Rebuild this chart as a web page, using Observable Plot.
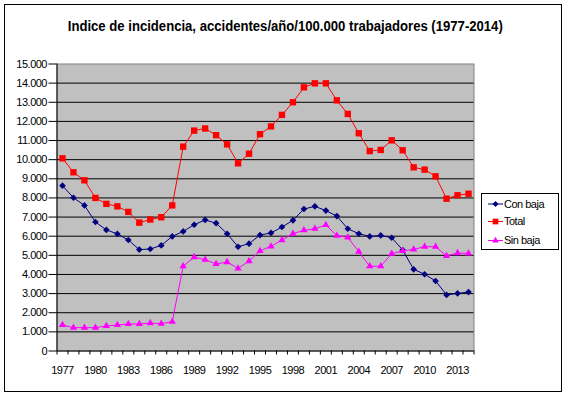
<!DOCTYPE html>
<html>
<head>
<meta charset="utf-8">
<script src="https://cdn.jsdelivr.net/npm/d3@7"></script>
<script src="https://cdn.jsdelivr.net/npm/@observablehq/plot@0.6"></script>
<style>
  body { margin: 0; background: white; }
  #chart { position: relative; width: 568px; height: 398px; background: white; overflow: hidden; }
  #border { position: absolute; left: 4px; top: 4px; width: 556px; height: 386px; border: 1px solid black; }
  #title { position: absolute; left: 1.5px; width: 568px; top: 18px; text-align: center;
           font: bold 14px/16px "Liberation Sans", Arial, sans-serif; color: black; white-space: nowrap; }
  #title span { display: inline-block; transform-origin: 50% 50%; }
  #plot { position: absolute; left: 0; top: 0; }
  #legend { position: absolute; left: 481px; top: 193px; width: 76px; height: 55px; border: 1px solid black; background: white; }
</style>
</head>
<body>
<div id="chart">
  <div id="border"></div>
  <div id="plot"></div>
  <div id="title"><span>Indice de incidencia, accidentes/año/100.000 trabajadores (1977-2014)</span></div>
  <div id="legend"></div>
</div>
<script>
const years = [1977, 1978, 1979, 1980, 1981, 1982, 1983, 1984, 1985, 1986, 1987, 1988, 1989,
  1990, 1991, 1992, 1993, 1994, 1995, 1996, 1997, 1998, 1999, 2000, 2001, 2002, 2003, 2004,
  2005, 2006, 2007, 2008, 2009, 2010, 2011, 2012, 2013, 2014];
const conBaja = [8640, 8010, 7610, 6740, 6330, 6120, 5800, 5300, 5330, 5520, 5990, 6250, 6600,
  6850, 6680, 6130, 5450, 5610, 6060, 6170, 6480, 6830, 7420, 7560, 7340, 7050, 6390, 6130,
  5990, 6040, 5920, 5280, 4270, 4010, 3660, 2930, 3010, 3080];
const total = [10070, 9340, 8920, 8000, 7690, 7560, 7270, 6710, 6870, 6990, 7610, 10680, 11520,
  11630, 11280, 10800, 9810, 10310, 11330, 11740, 12340, 13000, 13780, 13990, 13990, 13100, 12390, 11380,
  10450, 10510, 11010, 10490, 9600, 9480, 9130, 7960, 8140, 8220];
const sinBaja = [1360, 1220, 1220, 1220, 1310, 1360, 1410, 1410, 1460, 1430, 1530, 4430, 4910,
  4770, 4550, 4650, 4320, 4700, 5230, 5470, 5800, 6130, 6310, 6390, 6590, 6030, 5940, 5190,
  4430, 4430, 5090, 5230, 5310, 5450, 5450, 4970, 5120, 5100];
const seriesNames = ["Con baja", "Total", "Sin baja"];
const seriesColors = ["#000080", "#FF0000", "#FF00FF"];
const seriesSymbols = ["diamond2", "square", "triangle"];
const yTicks = [0, 1000, 2000, 3000, 4000, 5000, 6000, 7000, 8000, 9000, 10000, 11000, 12000, 13000, 14000, 15000];
const xTickLabels = [1977, 1980, 1983, 1986, 1989, 1992, 1995, 1998, 2001, 2004, 2007, 2010, 2013];

const seriesValues = [conBaja, total, sinBaja];
const data = [];
seriesNames.forEach((name, i) => {
  years.forEach((yr, j) => data.push({serie: name, year: yr, value: seriesValues[i][j]}));
});
const boundaries = years.map(y => y - 0.5).concat([years[years.length - 1] + 0.5]);
const fmt = d => d3.format(",")(d).replace(/,/g, ".");
const sizes = {"Con baja": 3, "Total": 3.6, "Sin baja": 2.7};

const marks = [
  Plot.frame({fill: "#C0C0C0", stroke: "#808080"}),
  Plot.ruleY(yTicks.filter(v => v > 0 && v < 15000), {stroke: "black", strokeWidth: 1}),
  Plot.ruleY([0], {stroke: "black"}),
  Plot.ruleX([boundaries[0]], {stroke: "black"}),
  Plot.axisY(yTicks, {tickSize: 8, tickPadding: 2, tickFormat: fmt, fill: "black", stroke: "black", label: null}),
  Plot.axisX(boundaries, {tickSize: 4, tickFormat: () => "", stroke: "black", label: null}),
  Plot.axisX(xTickLabels, {tickSize: 0, tickPadding: 15, tickFormat: d => String(d), fill: "black", label: null})
];
seriesNames.forEach((name, i) => {
  const d = data.filter(r => r.serie === name);
  marks.push(Plot.line(d, {x: "year", y: "value", stroke: seriesColors[i], strokeWidth: 1}));
  marks.push(Plot.dot(d, {x: "year", y: "value", symbol: () => seriesSymbols[i], fill: seriesColors[i], stroke: "none", r: sizes[name]}));
});

const chart = Plot.plot({
  width: 568, height: 398,
  marginLeft: 56.5, marginRight: 94.5, marginTop: 63.5, marginBottom: 47.5,
  x: {type: "linear", domain: [boundaries[0], boundaries[boundaries.length - 1]], label: null},
  y: {domain: [0, 15000], label: null},
  symbol: {type: "identity"},
  style: {fontFamily: "'Liberation Sans', Arial, sans-serif", fontSize: "11px", background: "transparent", color: "black", letterSpacing: "-0.5px"},
  marks
});
document.getElementById("plot").appendChild(chart);

// squeeze title horizontally to match reference width
const span = document.querySelector("#title span");
const w = span.getBoundingClientRect().width;
span.style.transform = `scaleX(${435 / w})`;

// legend
const lg = d3.select("#legend").append("svg").attr("width", 76).attr("height", 55)
  .style("position", "absolute").style("left", 0).style("top", 0);
const rowsY = [9.5, 27, 46];
const symMap = {diamond2: d3.symbolDiamond2, square: d3.symbolSquare, triangle: d3.symbolTriangle};
seriesNames.forEach((name, i) => {
  const g = lg.append("g").attr("transform", `translate(0,${rowsY[i]})`);
  g.append("line").attr("x1", 6).attr("x2", 21).attr("y1", 0.5).attr("y2", 0.5).attr("stroke", seriesColors[i]);
  g.append("path").attr("transform", "translate(13.5,0.5)")
    .attr("d", d3.symbol(symMap[seriesSymbols[i]], Math.PI * sizes[name] * sizes[name] * 0.8)())
    .attr("fill", seriesColors[i]);
  g.append("text").attr("x", 22).attr("y", 0.5).attr("dy", "0.35em").text(name)
    .style("font", "11px 'Liberation Sans', Arial, sans-serif").style("letter-spacing", "-0.5px");
});
</script>
</body>
</html>
